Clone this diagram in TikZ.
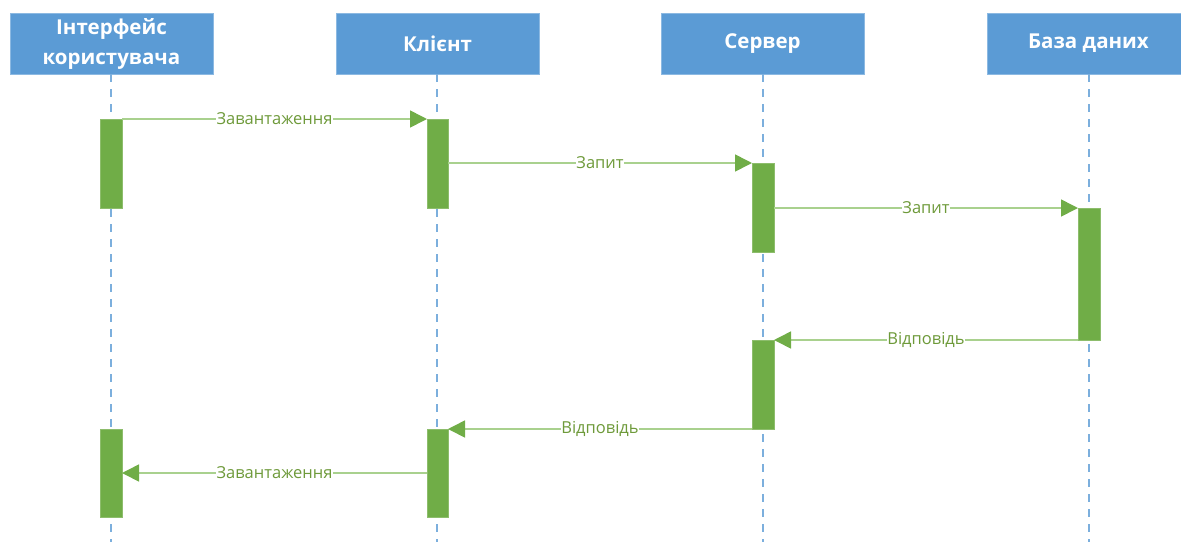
\documentclass[tikz,border=0pt]{standalone}
\usepackage{fontspec}
\setmainfont{Open Sans}
\usetikzlibrary{arrows.meta}
\definecolor{hdrblue}{HTML}{5B9BD5}
\definecolor{actgreen}{HTML}{70AD47}
\definecolor{msgline}{HTML}{A9D18E}
\definecolor{msgtext}{HTML}{6E9A3A}
\tikzset{
  header/.style={fill=hdrblue, draw=hdrblue!70!white, line width=0.6pt, minimum width=203pt, minimum height=61pt,
    text=white, font=\bfseries\fontsize{20.5}{30}\selectfont, align=center, inner sep=0pt},
  lifeline/.style={draw=hdrblue!80!white, line width=1.2pt, dash pattern=on 8pt off 7pt},
  actbar/.style={fill=actgreen, draw=actgreen!80!white, line width=0.4pt},
  msg/.style={draw=msgline, line width=1.6pt, -{Triangle[length=17pt,width=17pt,fill=actgreen,color=actgreen]}},
  msglabel/.style={fill=white, text=msgtext, font=\fontsize{16.5}{19}\selectfont, inner sep=0.5pt}
}
\begin{document}
\begin{tikzpicture}[x=1pt,y=-1pt]
\useasboundingbox (0,0) rectangle (1181,542);
\begin{scope}
\clip (0,0) rectangle (1181,542);
% participants
\node[header] (ui) at (111.5,43.5) {Інтерфейс\\користувача};
\node[header] (cl) at (437.5,43.5) {Клієнт};
\node[header] (sv) at (762.5,43.5) {Сервер};
\node[header] (db) at (1088.5,43.5) {База даних};
% lifelines
\coordinate (uiend) at (111,542);
\coordinate (clend) at (437,542);
\coordinate (svend) at (763,542);
\coordinate (dbend) at (1089,542);
\draw[lifeline] (ui.south -| uiend) -- (uiend);
\draw[lifeline] (cl.south -| clend) -- (clend);
\draw[lifeline] (sv.south -| svend) -- (svend);
\draw[lifeline] (db.south -| dbend) -- (dbend);
% activation bars
\path[actbar] (100,119) rectangle (122,208);
\path[actbar] (427,119) rectangle (448,208);
\path[actbar] (752,163) rectangle (774,252);
\path[actbar] (1078,208) rectangle (1100,340);
\path[actbar] (752,340) rectangle (774,429);
\path[actbar] (427,429) rectangle (448,517);
\path[actbar] (100,429) rectangle (122,517);
% message end points
\coordinate (m1s) at (122,119);  \coordinate (m1e) at (427,119);
\coordinate (m2s) at (448,163);  \coordinate (m2e) at (752,163);
\coordinate (m3s) at (774,208);  \coordinate (m3e) at (1078,208);
\coordinate (m4s) at (1078,340); \coordinate (m4e) at (774,340);
\coordinate (m5s) at (752,429);  \coordinate (m5e) at (448,429);
\coordinate (m6s) at (427,473);  \coordinate (m6e) at (122,473);
% messages
\draw[msg] (m1s) -- node[msglabel] {Завантаження} (m1e);
\draw[msg] (m2s) -- node[msglabel] {Запит} (m2e);
\draw[msg] (m3s) -- node[msglabel] {Запит} (m3e);
\draw[msg] (m4s) -- node[msglabel] {Відповідь} (m4e);
\draw[msg] (m5s) -- node[msglabel] {Відповідь} (m5e);
\draw[msg] (m6s) -- node[msglabel] {Завантаження} (m6e);
\end{scope}
\end{tikzpicture}
\end{document}
